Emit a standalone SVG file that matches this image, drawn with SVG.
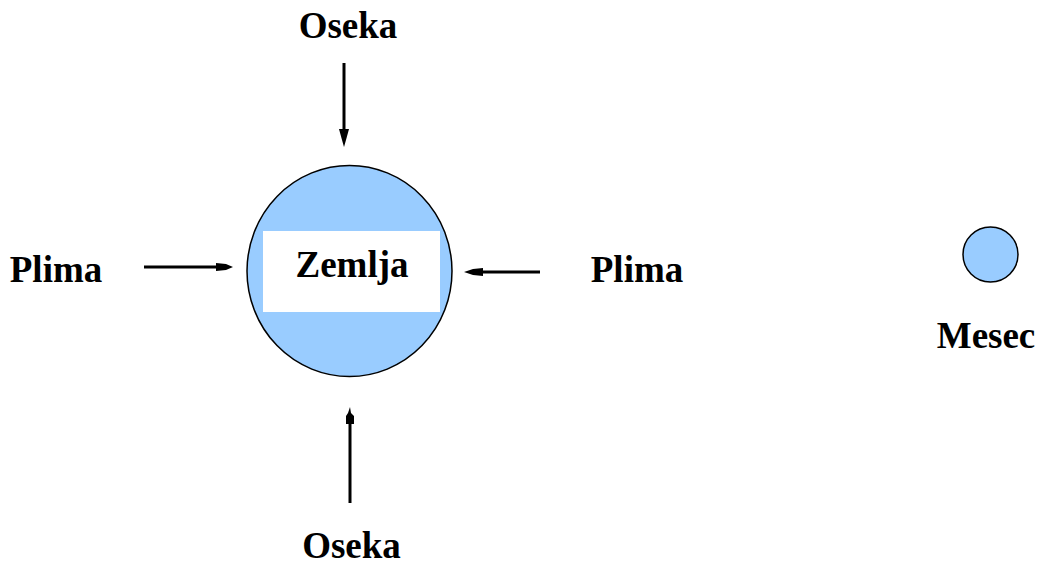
<svg xmlns="http://www.w3.org/2000/svg" width="1038" height="564" viewBox="0 0 1038 564">
<style>
.t{font-family:"Liberation Serif","Times New Roman",serif;font-weight:bold;font-size:37px;fill:#000}
.c{fill:#99ccff;stroke:#000;stroke-width:1.5}
.l{stroke:#000;stroke-width:3;fill:none}
.h{fill:#000}
</style>
<rect width="1038" height="564" fill="#fff"/>
<g id="zemlja">
<ellipse class="c" cx="349.5" cy="271" rx="102.5" ry="105.5"/>
<rect x="263" y="231" width="177" height="81" fill="#fff"/>
<text class="t" x="352" y="277" text-anchor="middle">Zemlja</text>
</g>
<g id="mesec">
<circle class="c" cx="990.5" cy="254.5" r="27.5"/>
<text class="t" x="986" y="348" text-anchor="middle">Mesec</text>
</g>
<g id="oseka-top"><text class="t" x="348" y="38" text-anchor="middle">Oseka</text></g>
<g id="oseka-bottom"><text class="t" x="351.5" y="558" text-anchor="middle">Oseka</text></g>
<g id="plima-left"><text class="t" x="56" y="282" text-anchor="middle">Plima</text></g>
<g id="plima-right"><text class="t" x="637" y="282" text-anchor="middle">Plima</text></g>
<g id="connectors">
<line class="l" x1="144" y1="267" x2="220" y2="267"/>
<polygon class="h" points="216,263 226,264 233,267 226,270 216,271"/>
<line class="l" x1="540" y1="272" x2="478" y2="272"/>
<polygon class="h" points="483,268 473,269 464,272 473,275 483,276"/>
<line class="l" x1="344" y1="63" x2="344" y2="135"/>
<polygon class="h" points="339,129 349,129 346,140 344,147 342,140"/>
<line class="l" x1="350" y1="503" x2="350" y2="420"/>
<polygon class="h" points="346,424 354,424 354,416 351,413 350,407 348,413 346,416"/>
</g>
</svg>
